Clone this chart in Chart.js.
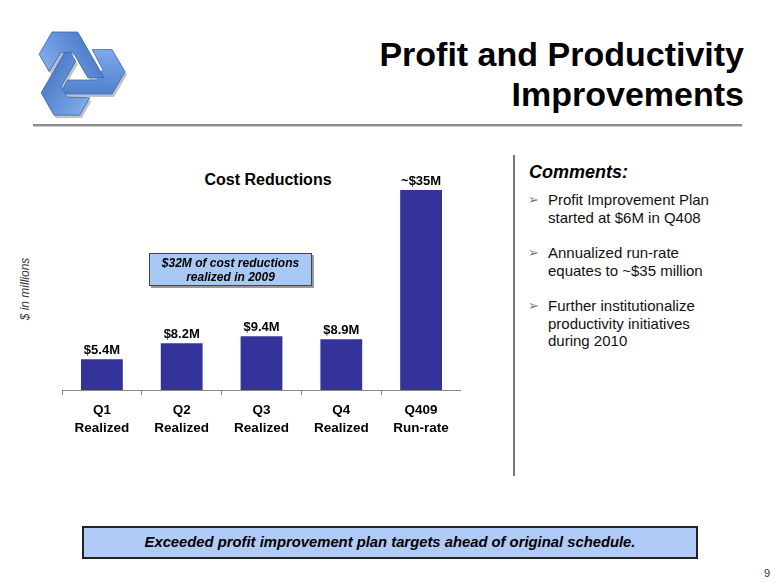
<!DOCTYPE html>
<html lang="en">
<head>
<meta charset="UTF-8">
<title>Profit and Productivity Improvements</title>
<style>
    body { margin: 0; background: #fff; font-family: "Liberation Sans", Arial, sans-serif; color: #000; }
    #slide { position: relative; width: 780px; height: 585px; overflow: hidden; background: #fff; }
    .abs { position: absolute; }
    .title { right: 36px; top: 34px; text-align: right; font-weight: bold; font-size: 34px; line-height: 40px; }
    .rule { left: 33px; top: 124px; width: 709px; height: 2px; background: #8c8c8c; }
    .rule2 { left: 33px; top: 126px; width: 709px; height: 1px; background: #cfcfcf; }
    .chart-title { left: 168px; top: 170px; width: 200px; text-align: center; font-weight: bold; font-size: 16px; line-height: 20px; }
    .yunit { left: 25px; top: 289px; transform: translate(-50%, -50%) rotate(-90deg); font-style: italic; font-size: 12px; color: #333; white-space: nowrap; }
    .callout { left: 149px; top: 253px; width: 163px; height: 33px; box-sizing: border-box; border: 1px solid #444;
               background: #a9c9f5; box-shadow: 2px 2px 0 #9a9a9a; text-align: center; font-weight: bold; font-style: italic;
               font-size: 12px; line-height: 14px; padding-top: 2px; }
    .divider { left: 513px; top: 155px; width: 1.5px; height: 321px; background: #777; }
    .comments { left: 529px; top: 161px; font-weight: bold; font-style: italic; font-size: 18px; line-height: 22px; }
    .bullets { left: 528px; top: 191px; width: 240px; }
    .bullets p { margin: 0 0 18px 0; padding-left: 20px; position: relative; font-size: 15px; line-height: 17.5px; color: #111; }
    .bullets p::before { content: "\27A2"; position: absolute; left: 0; top: 0; font-family: "DejaVu Sans", sans-serif; font-size: 13px; color: #777; }
    .banner { left: 82px; top: 526px; width: 616px; height: 33px; box-sizing: border-box; border: 2px solid #222;
              background: #b0cbf7; text-align: center; font-weight: bold; font-style: italic; font-size: 14.8px; line-height: 29px; }
    .pageno { left: 764px; top: 567px; font-size: 11px; color: #333; }
    #chartBox { left: 62px; top: 150px; width: 399px; height: 300px; }
</style>
</head>
<body>
<div id="slide">
    <svg class="abs" style="left:0;top:0" width="135" height="135" viewBox="0 0 135 135">
        <defs>
            <linearGradient id="lg" x1="0" y1="0" x2="0" y2="1">
                <stop offset="0" stop-color="#7faaea"/>
                <stop offset="1" stop-color="#4f80cc"/>
            </linearGradient>
            <polygon id="piece" points="-15,18 30,18 41,-1 30,-20 13,-20 22,-3 17,6 -8,6"/>
        </defs>
        <g transform="translate(79,76) scale(1.17)" fill="#9c9c9c" opacity="0.6">
            <use href="#piece"/>
            <use href="#piece" transform="rotate(120)"/>
            <use href="#piece" transform="rotate(240)"/>
        </g>
        <g transform="translate(77,73) scale(1.17)" fill="url(#lg)" stroke="#3d6db8" stroke-width="0.7">
            <use href="#piece"/>
            <use href="#piece" transform="rotate(120)"/>
            <use href="#piece" transform="rotate(240)"/>
        </g>
    </svg>

    <div class="abs title">Profit and Productivity<br>Improvements</div>
    <div class="abs rule"></div>
    <div class="abs rule2"></div>

    <div class="abs chart-title">Cost Reductions</div>
    <div class="abs yunit">$ in millions</div>
    <div class="abs" id="chartBox"><canvas id="costChart" width="399" height="300"></canvas></div>
    <div class="abs callout">$32M of cost reductions<br>realized in 2009</div>

    <div class="abs divider"></div>
    <div class="abs comments">Comments:</div>
    <div class="abs bullets">
        <p>Profit Improvement Plan<br>started at $6M in Q408</p>
        <p>Annualized run-rate<br>equates to ~$35 million</p>
        <p>Further institutionalize<br>productivity initiatives<br>during 2010</p>
    </div>

    <div class="abs banner">Exceeded profit improvement plan targets ahead of original schedule.</div>
    <div class="abs pageno">9</div>
</div>

<script src="https://cdn.jsdelivr.net/npm/chart.js"></script>
<script>
const categories = [['Q1', 'Realized'], ['Q2', 'Realized'], ['Q3', 'Realized'], ['Q4', 'Realized'], ['Q409', 'Run-rate']];
const savings = [5.4, 8.2, 9.4, 8.9, 35];
const barLabels = ['$5.4M', '$8.2M', '$9.4M', '$8.9M', '~$35M'];

const FONT = '"Liberation Sans", Arial, sans-serif';

// value labels above each bar
const barValueLabels = {
    id: 'barValueLabels',
    afterDatasetsDraw(chart) {
        const ctx = chart.ctx;
        const meta = chart.getDatasetMeta(0);
        ctx.save();
        ctx.font = 'bold 13px ' + FONT;
        ctx.fillStyle = '#000';
        ctx.textAlign = 'center';
        ctx.textBaseline = 'middle';
        meta.data.forEach((bar, i) => {
            ctx.fillText(barLabels[i], bar.x, bar.y - 9);
        });
        ctx.restore();
    }
};

new Chart(document.getElementById('costChart'), {
    type: 'bar',
    data: {
        labels: categories,
        datasets: [{
            data: savings,
            backgroundColor: '#333399',
            borderWidth: 0,
            categoryPercentage: 1,
            barPercentage: 0.524
        }]
    },
    options: {
        responsive: false,
        animation: false,
        layout: { padding: 0 },
        plugins: {
            legend: { display: false },
            tooltip: { enabled: false }
        },
        scales: {
            x: {
                afterFit: s => { s.height = 60; },
                grid: { display: true, drawOnChartArea: false, drawTicks: true, tickLength: 5, color: '#888', offset: true },
                border: { display: true, color: '#888', width: 1 },
                ticks: {
                    color: '#000',
                    padding: 7,
                    maxRotation: 0,
                    font: { family: FONT, size: 13.5, weight: 'bold', lineHeight: 1.28 }
                }
            },
            y: {
                display: false,
                min: 0,
                max: 42
            }
        }
    },
    plugins: [barValueLabels]
});
</script>
</body>
</html>
